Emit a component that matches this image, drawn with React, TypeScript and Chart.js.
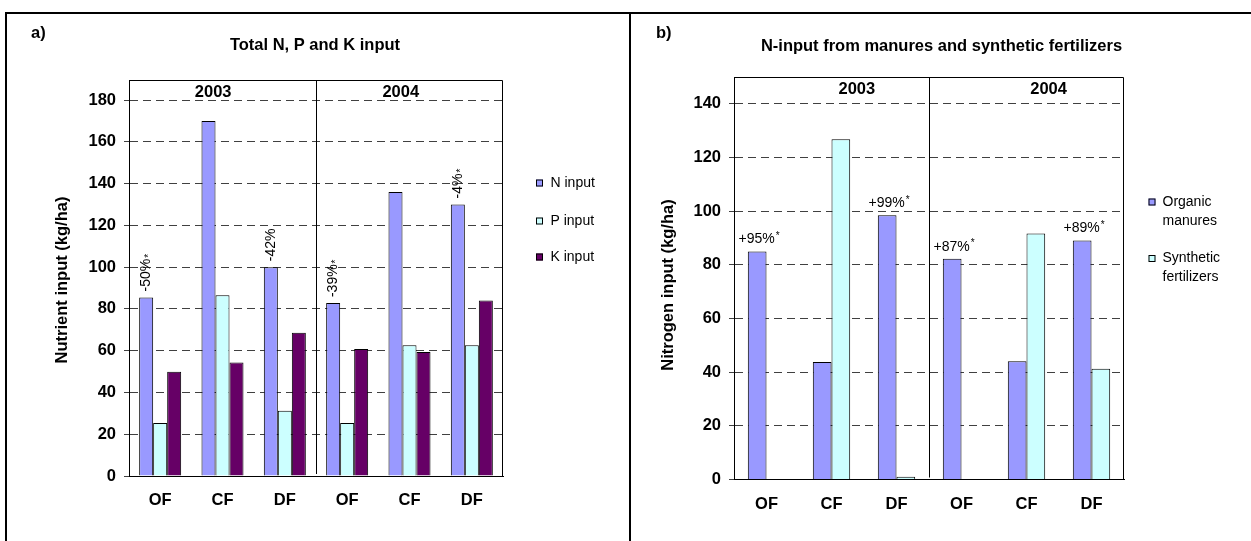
import React, { useEffect, useRef } from 'react';
import { Chart, registerables } from 'chart.js';

Chart.register(...registerables);

// ---------- data ----------
const categories = ['OF', 'CF', 'DF', 'OF', 'CF', 'DF'];
const years = ['2003', '2004'];

// panel a
const nInput = [85.5, 170, 100, 82.8, 136, 130];
const pInput = [25.4, 86.6, 31.3, 25.4, 62.6, 62.6];
const kInput = [49.9, 54.4, 68.6, 60.8, 59.4, 84];
const nChangeLabels = ['-50%*', '', '-42%', '-39%*', '', '-4%*'];
const legendA = ['N input', 'P input', 'K input'];
const yTicksA = [0, 20, 40, 60, 80, 100, 120, 140, 160, 180];

// panel b
const organicManures = [85, 43.8, 98.5, 82.3, 44.1, 89.1];
const syntheticFertilizers = [0, 126.8, 1, 0, 91.7, 41.3];
const organicShareLabels = ['+95%*', '', '+99%*', '+87%*', '', '+89%*'];
const legendB = [['Organic', 'manures'], ['Synthetic', 'fertilizers']];
const yTicksB = [0, 20, 40, 60, 80, 100, 120, 140];

const titleA = 'Total N, P and K input';
const titleB = 'N-input from manures and synthetic fertilizers';
const yTitleA = 'Nutrient input (kg/ha)';
const yTitleB = 'Nitrogen input (kg/ha)';

// ---------- style ----------
const FONT = 'Arial, "Liberation Sans", sans-serif';
const BOLD = 16.5;
const C_N = '#9999FF';
const C_P = '#CCFFFF';
const C_K = '#660066';
const GRID = '#404040';

type PanelStyle = {
  tag: string;
  tagX: number;
  title: string;
  titleX: number;
  titleY: number;
  yTitle: string;
  yTitleX: number;
  yTitleY: number;
  yearPos: number[];
  yearY: number;
  legendColors: string[];
  legendLabels: string[][];
  legendBoxX: number;
  legendTextX: number;
  legendY: number[];
  lineGap: number;
  notes: string[];
  rotatedNotes: boolean;
};

function drawStarText(ctx: CanvasRenderingContext2D, text: string, x: number, y: number, centered: boolean) {
  const star = text.endsWith('*');
  const main = star ? text.slice(0, -1) : text;
  ctx.font = `14px ${FONT}`;
  const w = ctx.measureText(main).width;
  ctx.font = `10px ${FONT}`;
  const sw = star ? ctx.measureText('*').width + 1 : 0;
  const start = centered ? x - (w + sw) / 2 : x;
  ctx.textAlign = 'left';
  ctx.textBaseline = 'middle';
  ctx.font = `14px ${FONT}`;
  ctx.fillText(main, start, y);
  if (star) {
    ctx.font = `10px ${FONT}`;
    ctx.fillText('*', start + w + 1, y - 3);
  }
}

function makePanelPlugin(s: PanelStyle) {
  return {
    id: 'panel' + s.tag,
    afterDraw(chart: any) {
      const { ctx, chartArea: ca } = chart;
      const xs = chart.scales.x;
      ctx.save();
      // plot frame (top & right)
      ctx.strokeStyle = '#000';
      ctx.lineWidth = 1;
      ctx.setLineDash([]);
      ctx.beginPath();
      ctx.moveTo(ca.left, Math.round(ca.top) + 0.5);
      ctx.lineTo(Math.round(ca.right) - 0.5, Math.round(ca.top) + 0.5);
      ctx.lineTo(Math.round(ca.right) - 0.5, ca.bottom);
      ctx.stroke();
      // year divider
      const mid = Math.round((xs.getPixelForValue(2) + xs.getPixelForValue(3)) / 2) + 0.5;
      ctx.beginPath();
      ctx.moveTo(mid, ca.top);
      ctx.lineTo(mid, ca.bottom - 2);
      ctx.stroke();

      ctx.fillStyle = '#000';
      // years
      ctx.font = `bold ${BOLD}px ${FONT}`;
      ctx.textAlign = 'center';
      ctx.textBaseline = 'middle';
      years.forEach((yr, i) => {
        ctx.fillText(yr, xs.getPixelForValue(s.yearPos[i]), s.yearY);
      });

      // tag + title
      ctx.textAlign = 'left';
      ctx.fillText(s.tag + ')', s.tagX, 33);
      ctx.textAlign = 'center';
      ctx.fillText(s.title, s.titleX, s.titleY);

      // y title
      ctx.save();
      ctx.translate(s.yTitleX, s.yTitleY);
      ctx.rotate(-Math.PI / 2);
      ctx.fillText(s.yTitle, 0, 0);
      ctx.restore();

      // notes above first dataset bars
      const meta = chart.getDatasetMeta(0);
      s.notes.forEach((note, i) => {
        if (!note) return;
        const bar = meta.data[i];
        if (s.rotatedNotes) {
          ctx.save();
          ctx.translate(bar.x, bar.y - 6);
          ctx.rotate(-Math.PI / 2);
          const star = note.endsWith('*');
          const main = star ? note.slice(0, -1) : note;
          ctx.font = `14px ${FONT}`;
          ctx.textAlign = 'left';
          ctx.textBaseline = 'middle';
          ctx.fillText(main, 0, 0);
          if (star) {
            const w = ctx.measureText(main).width;
            ctx.font = `10px ${FONT}`;
            ctx.fillText('*', w + 1, 3);
          }
          ctx.restore();
        } else {
          drawStarText(ctx, note, bar.x + 2, bar.y - 12, true);
        }
      });

      // legend
      s.legendLabels.forEach((lines, i) => {
        const y = s.legendY[i];
        ctx.fillStyle = s.legendColors[i];
        ctx.fillRect(s.legendBoxX, y - 3.5, 7, 7);
        ctx.strokeStyle = '#000';
        ctx.lineWidth = 1;
        ctx.strokeRect(s.legendBoxX + 0.5, y - 3.5 + 0.5, 6, 6);
        ctx.fillStyle = '#000';
        ctx.font = `14px ${FONT}`;
        ctx.textAlign = 'left';
        ctx.textBaseline = 'middle';
        lines.forEach((ln, j) => ctx.fillText(ln, s.legendTextX, y + j * s.lineGap));
      });
      ctx.restore();
    },
  };
}

function makeConfig(
  datasets: any[],
  max: number,
  tickValues: number[],
  yWidth: number,
  pad: { top: number; right: number; bottom: number },
  plugin: any
) {
  return {
    type: 'bar' as const,
    data: { labels: categories, datasets },
    options: {
      animation: false as const,
      responsive: false,
      maintainAspectRatio: false,
      events: [],
      layout: { padding: { left: 0, top: pad.top, right: pad.right, bottom: pad.bottom } },
      plugins: { legend: { display: false }, tooltip: { enabled: false }, title: { display: false } },
      scales: {
        x: {
          grid: { display: false, drawTicks: false },
          border: { display: true, color: '#000', width: 1 },
          ticks: {
            color: '#000',
            font: { family: FONT, size: BOLD, weight: 'bold' },
            padding: 15,
            maxRotation: 0,
            autoSkip: false,
          },
          afterFit: (sc: any) => {
            sc.height = 40;
          },
        },
        y: {
          min: 0,
          max,
          afterBuildTicks: (sc: any) => {
            sc.ticks = tickValues.map((v) => ({ value: v }));
          },
          ticks: {
            color: '#000',
            font: { family: FONT, size: BOLD, weight: 'bold' },
            padding: 8,
          },
          grid: {
            color: (c: any) => (c.tick && c.tick.value === 0 ? 'rgba(0,0,0,0)' : GRID),
            lineWidth: 1,
            drawTicks: true,
            tickLength: 5,
            tickColor: GRID,
          },
          border: { display: true, color: '#000', width: 1, dash: [8, 5] },
          afterFit: (sc: any) => {
            sc.width = yWidth;
          },
        },
      },
    },
    plugins: [plugin],
  };
}

const styleA: PanelStyle = {
  tag: 'a',
  tagX: 31,
  title: titleA,
  titleX: 315,
  titleY: 45.5,
  yTitle: yTitleA,
  yTitleX: 62,
  yTitleY: 280,
  yearPos: [0.85, 3.86],
  yearY: 92,
  legendColors: [C_N, C_P, C_K],
  legendLabels: legendA.map((l) => [l]),
  legendBoxX: 536,
  legendTextX: 550.5,
  legendY: [183, 221, 257],
  lineGap: 19,
  notes: nChangeLabels,
  rotatedNotes: true,
};

const B_OFF = 626;
const styleB: PanelStyle = {
  tag: 'b',
  tagX: 656 - B_OFF,
  title: titleB,
  titleX: 941.5 - B_OFF,
  titleY: 46.5,
  yTitle: yTitleB,
  yTitleX: 668 - B_OFF,
  yTitleY: 285,
  yearPos: [1.39, 4.34],
  yearY: 89,
  legendColors: [C_N, C_P],
  legendLabels: legendB,
  legendBoxX: 1148.5 - B_OFF,
  legendTextX: 1162.5 - B_OFF,
  legendY: [202, 258.5],
  lineGap: 19,
  notes: organicShareLabels,
  rotatedNotes: false,
};

function Panel({ left, config }: { left: number; config: any }) {
  const ref = useRef<HTMLCanvasElement | null>(null);
  useEffect(() => {
    if (!ref.current) return;
    const chart = new Chart(ref.current, config);
    return () => chart.destroy();
  }, [config]);
  return (
    <canvas
      ref={ref}
      width={625}
      height={541}
      style={{ position: 'absolute', left, top: 0, width: 625, height: 541, display: 'block' }}
    />
  );
}

const barStyle = { borderColor: '#000', borderWidth: 1, barPercentage: 1 };

const configA = makeConfig(
  [
    { label: legendA[0], data: nInput, backgroundColor: C_N, ...barStyle, categoryPercentage: 0.674 },
    { label: legendA[1], data: pInput, backgroundColor: C_P, ...barStyle, categoryPercentage: 0.674 },
    { label: legendA[2], data: kInput, backgroundColor: C_K, ...barStyle, categoryPercentage: 0.674 },
  ],
  189.6,
  yTicksA,
  129,
  { top: 80, right: 625 - 503, bottom: 541 - 476 - 40 },
  makePanelPlugin(styleA)
);

const configB = makeConfig(
  [
    { label: legendB[0].join(' '), data: organicManures, backgroundColor: C_N, ...barStyle, categoryPercentage: 0.575 },
    { label: legendB[1].join(' '), data: syntheticFertilizers, backgroundColor: C_P, ...barStyle, categoryPercentage: 0.575 },
  ],
  150,
  yTicksB,
  734 - B_OFF,
  { top: 77, right: 625 - (1124 - B_OFF), bottom: 541 - 479.5 - 40 },
  makePanelPlugin(styleB)
);

export default function App() {
  return (
    <div
      style={{
        position: 'absolute',
        left: 0,
        top: 0,
        width: 1251,
        height: 541,
        background: '#fff',
        overflow: 'hidden',
      }}
    >
      <Panel left={0} config={configA} />
      <Panel left={B_OFF} config={configB} />
      <div style={{ position: 'absolute', left: 5, top: 12, width: 1246, height: 2, background: '#000' }} />
      <div style={{ position: 'absolute', left: 5, top: 12, width: 2, height: 529, background: '#000' }} />
      <div style={{ position: 'absolute', left: 629, top: 12, width: 2, height: 529, background: '#000' }} />
    </div>
  );
}
